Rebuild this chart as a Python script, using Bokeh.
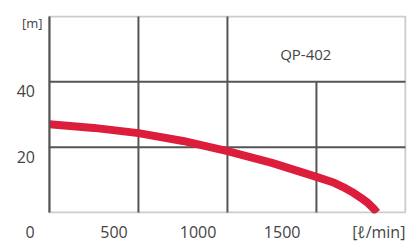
from bokeh.plotting import figure
from bokeh.models import (Range1d, LinearAxis, FixedTicker, Label, BoxAnnotation, ColumnDataSource)
from bokeh.embed import file_html
from bokeh.resources import INLINE

# Data: flow [l/min] vs head [m]
flow = [0, 250, 500, 750, 1000, 1250, 1500, 1600, 1650, 1700, 1750, 1790, 1820, 1840]
head = [27, 25.9, 24.3, 21.9, 18.8, 15.2, 10.9, 9.1, 7.8, 6.3, 4.5, 2.9, 1.3, 0]

x_ticks = [0, 500, 1000, 1500]
y_ticks = [20, 40]
x_max = 2000
y_max = 60
x_grid = [500, 1000, 1500]
x_grid_top = [60, 60, 40]     # the 1500 line stops at 40 m
y_grid = [20, 40]
model_name = "QP-402"
x_unit = "[ℓ/min]"
y_unit = "[m]"

FONT = "Open Sans"
TXT = "#444444"
GRID = "#555555"
Y_LABEL_SHIFT = 2.9   # tick labels in the original sit a little below their grid lines

# frame is widened to the left so the offset tick labels ("0", "[m]") stay inside the drawable area;
# the chart box itself spans 0..2000 x 0..60
p = figure(width=407, height=245, output_backend="svg", toolbar_location=None,
           x_range=Range1d(-230, 2006), y_range=Range1d(-0.3, 60.3),
           x_axis_location=None, y_axis_location=None,
           min_border_left=8, min_border_right=1, min_border_top=15, min_border_bottom=29)
p.background_fill_color = "white"
p.border_fill_color = "white"
p.outline_line_color = None
p.xgrid.visible = False
p.ygrid.visible = False

# label ranges (tick labels in the original sit offset from their grid lines)
p.extra_x_ranges = {"xlab": Range1d(-128, 2240)}
p.extra_y_ranges = {"ylab": Range1d(-0.3 + Y_LABEL_SHIFT, 60.3 + Y_LABEL_SHIFT)}

unit_tick = 2075
xaxis = LinearAxis(x_range_name="xlab", ticker=FixedTicker(ticks=x_ticks + [unit_tick]),
                   major_label_overrides={unit_tick: x_unit})
yaxis = LinearAxis(y_range_name="ylab", ticker=FixedTicker(ticks=y_ticks), fixed_location=-25)
for ax in (xaxis, yaxis):
    ax.axis_line_color = None
    ax.major_tick_line_color = None
    ax.minor_tick_line_color = None
    ax.major_tick_out = 0
    ax.major_tick_in = 0
    ax.major_label_text_font = FONT
    ax.major_label_text_font_size = "16px"
    ax.major_label_text_color = TXT
xaxis.major_label_standoff = 7
yaxis.major_label_standoff = 10
p.add_layout(xaxis, "below")
p.add_layout(yaxis, "left")

p.add_layout(Label(x=0, y=60.8, y_range_name="ylab", x_offset=-7,
                   text=y_unit, text_align="right", text_baseline="middle",
                   text_font=FONT, text_font_size="13px", text_color=TXT))

# grid lines
p.segment(x0=x_grid, y0=[0] * len(x_grid), x1=x_grid, y1=x_grid_top,
          line_color=GRID, line_width=2)
p.segment(x0=[0] * len(y_grid), y0=y_grid, x1=[x_max] * len(y_grid), y1=y_grid,
          line_color=GRID, line_width=2)

# curve
src = ColumnDataSource(dict(q=flow, h=head))
p.line("q", "h", source=src, line_color="#dc1e3c", line_width=8, line_cap="butt",
       line_join="round")

# chart box
p.add_layout(BoxAnnotation(left=0, right=x_max, bottom=0, top=y_max, fill_color=None,
                           line_color=GRID, line_width=2))
# left edge of the box as a thin filled strip
p.quad(left=[-6], right=[6], bottom=[0], top=[y_max], fill_color=GRID, line_color=None)

p.add_layout(Label(x=1440, y=48.5, text=model_name, text_align="center",
                   text_baseline="middle", text_font=FONT, text_font_size="15px",
                   text_color=TXT))

open("out.html", "w").write(file_html(p, INLINE))
